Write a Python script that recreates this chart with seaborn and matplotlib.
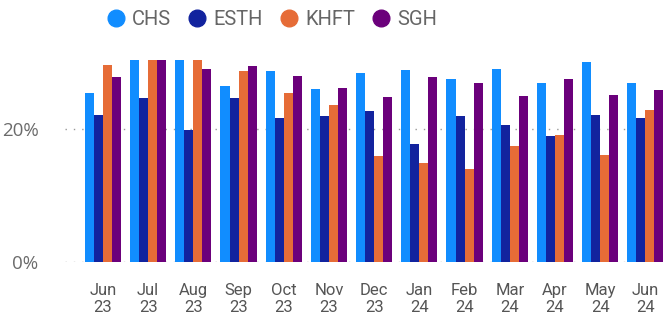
import matplotlib
matplotlib.use("Agg")
import matplotlib.pyplot as plt
from matplotlib.lines import Line2D
import pandas as pd
import seaborn as sns

months = ["Jun\n23", "Jul\n23", "Aug\n23", "Sep\n23", "Oct\n23", "Nov\n23", "Dec\n23",
          "Jan\n24", "Feb\n24", "Mar\n24", "Apr\n24", "May\n24", "Jun\n24"]
sites = ["CHS", "ESTH", "KHFT", "SGH"]
chs = [25.4, 30.6, 30.6, 26.4, 28.7, 26.0, 28.3, 28.8, 27.5, 28.9, 26.8, 30.0, 26.8]
esth = [22.0, 24.6, 19.8, 24.6, 21.6, 21.9, 22.7, 17.7, 21.9, 20.6, 18.9, 22.1, 21.6]
khft = [29.5, 30.6, 30.6, 28.7, 25.4, 23.6, 15.9, 14.8, 14.0, 17.4, 19.0, 16.1, 22.8]
sgh = [27.7, 30.6, 28.9, 29.4, 27.9, 26.1, 24.7, 27.8, 26.8, 24.9, 27.4, 25.1, 25.8]
colors = ["#118DFF", "#12239E", "#E66C37", "#6B007B"]

rows = []
for site, vals in zip(sites, [chs, esth, khft, sgh]):
    for m, v in zip(months, vals):
        rows.append({"month": m, "site": site, "value": v})
df = pd.DataFrame(rows)

sns.set_theme(style="white")
plt.rcParams["font.family"] = ["Roboto", "DejaVu Sans"]

fig = plt.figure(figsize=(6.63, 3.29), dpi=100)
ax = fig.add_axes([0.098, 0.204, 0.902, 0.614])

sns.barplot(data=df, x="month", y="value", hue="site", hue_order=sites,
            order=months, palette=colors, width=0.8, saturation=1,
            linewidth=0, legend=False, ax=ax)

ax.set_ylim(0, 30.3)
ax.set_xlim(-0.84, 12.39)
ax.set_yticks([0, 20])
ax.set_yticklabels(["0%", "20%"], fontsize=13.5, color="#6b6b6b",
                   family=["Open Sans", "DejaVu Sans"])
ax.tick_params(axis="y", length=0, pad=19)
ax.tick_params(axis="x", length=0, pad=15)
for lbl in ax.get_xticklabels():
    lbl.set_fontsize(12)
    lbl.set_color("#555555")
    lbl.set_linespacing(1.2)
ax.set_xlabel("")
ax.set_ylabel("")
for s in ax.spines.values():
    s.set_visible(False)
ax.yaxis.grid(True, linestyle=(0, (1, 5)), color="#999999", linewidth=1.0)
ax.set_axisbelow(True)

handles = [Line2D([0], [0], marker="o", linestyle="", markersize=12,
                  markerfacecolor=c, markeredgecolor=c) for c in colors]
fig.legend(handles, sites, loc="upper center", bbox_to_anchor=(0.402, 1.025), ncol=4,
           frameon=False, handletextpad=-0.2, columnspacing=0.3,
           prop={"size": 14.5}, labelcolor="#666666")

fig.savefig("out.png", dpi=100)
